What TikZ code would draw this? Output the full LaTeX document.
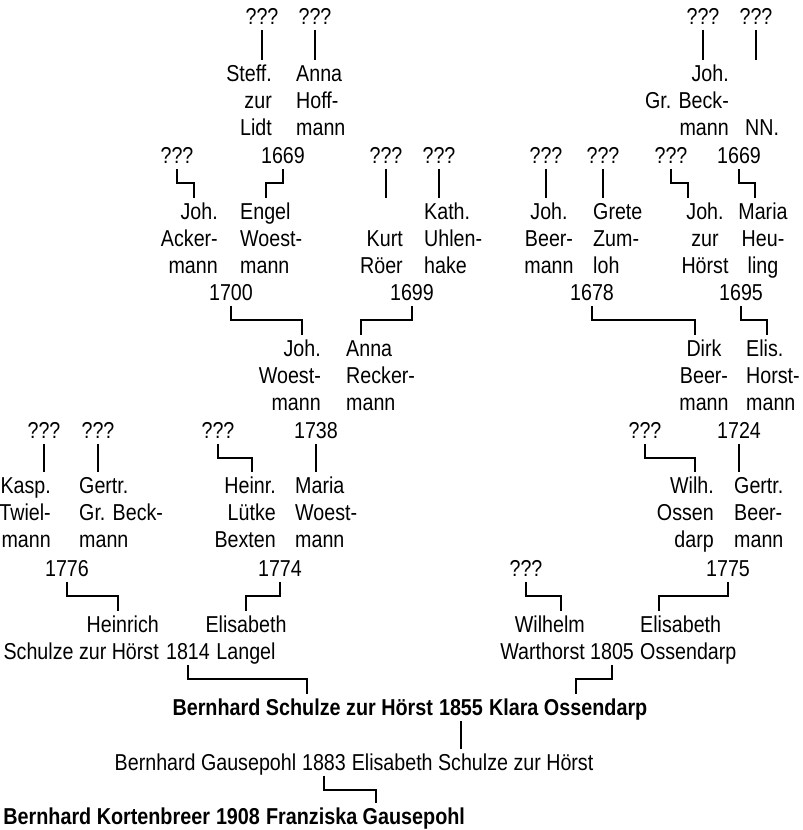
\documentclass[tikz,border=0pt]{standalone}
\usepackage{fontspec}
\setmainfont{Liberation Sans}[UprightFeatures={FakeStretch=0.855},BoldFeatures={FakeStretch=0.86}]
\usetikzlibrary{positioning}
\newcommand\anfont{\fontsize{23}{27}\selectfont}
\tikzset{
    cell/.style={font=\anfont, inner xsep=0pt, inner ysep=5pt, anchor=north},
    yr/.style={cell, text height=16.5pt, text depth=0pt},
    yrb/.style={yr, font=\anfont\bfseries},
    nmr/.style={cell, align=right, anchor=north east},
    nml/.style={cell, align=left, anchor=north west},
    nmc/.style={cell, align=center},
    link/.style={line width=1.8pt}
}
\begin{document}
\begin{tikzpicture}[x=1pt, y=-1pt]
            \fill[white] (0,0) rectangle (803,830);
            \useasboundingbox (0,0) rectangle (803,830);

            \node[yr] (q1) at (262,3) {???};
            \node[yr] (q2) at (315,3) {???};
            \node[yr] (q9) at (703,3) {???};
            \node[yr] (q10) at (756,3) {???};

            \node[nmr] (steff) at (272,60) {Steff.\\zur\\Lidt};
            \node[nml] (hoff) at (296,60) {Anna\\Hoff-\\mann};
            \node[nmr] (beck) at (729,60) {Joh.\\Gr. Beck-\\mann};
            \node[nml] (nn) at (745,60) {\vphantom{N}\\\vphantom{N}\\NN.};

            \foreach \n\x\t in {q3/177/???, y1669a/283/1669, q4/386/???, q5/439/???,
                                q6/546/???, q7/603/???, q8/671/???, y1669b/739/1669} {
                \node[yr] (\n) at (\x,142) {\t};
            }

            \node[nmr] (acker) at (218,198) {Joh.\\Acker-\\mann};
            \node[nml] (engel) at (240,198) {Engel\\Woest-\\mann};
            \node[nmr] (kurt) at (403,198) {\vphantom{K}\\Kurt\\Röer};
            \node[nml] (kath) at (424,198) {Kath.\\Uhlen-\\hake};
            \node[nmc] (beer) at (549,198) {Joh.\\Beer-\\mann};
            \node[nml] (grete) at (593,198) {Grete\\Zum-\\loh};
            \node[nmc] (jzh) at (705,198) {Joh.\\zur\\Hörst};
            \node[nmc] (heul) at (763,198) {Maria\\Heu-\\ling};

            \foreach \n\x\t in {y1700/231/1700, y1699/412/1699, y1678/592/1678, y1695/741/1695} {
                \node[yr] (\n) at (\x,279) {\t};
            }

            \node[nmr] (jwoest) at (321,335) {Joh.\\Woest-\\mann};
            \node[nml] (recker) at (346,335) {Anna\\Recker-\\mann};
            \node[nmc] (dirk) at (704,335) {Dirk\\Beer-\\mann};
            \node[nml] (elis) at (746,335) {Elis.\\Horst-\\mann};

            \foreach \n\x\t in {q11/44/???, q12/98/???, q13/218/???, y1738/316/1738,
                                q14/645/???, y1724/739/1724} {
                \node[yr] (\n) at (\x,417) {\t};
            }

            \node[nmr] (kasp) at (51,472) {Kasp.\\Twiel-\\mann};
            \node[nml] (gertr) at (79,472) {Gertr.\\Gr. Beck-\\mann};
            \node[nmr] (heinr) at (276,472) {Heinr.\\Lütke\\Bexten};
            \node[nml] (mwoest) at (295,472) {Maria\\Woest-\\mann};
            \node[nmr] (wilh) at (714,472) {Wilh.\\Ossen\\darp};
            \node[nml] (gbeer) at (734,472) {Gertr.\\Beer-\\mann};

            \foreach \n\x\t in {y1776/67/1776, y1774/280/1774, q15/526/???, y1775/728/1775} {
                \node[yr] (\n) at (\x,555) {\t};
            }

            \node[nmr] (heinrich) at (159,611) {Heinrich\\Schulze zur Hörst};
            \node[yr] (y1814) at (188,638) {1814};
            \node[nmc] (langel) at (246,611) {Elisabeth\\Langel};
            \node[nmr] (wilhelm) at (585,611) {Wilhelm\\Warthorst};
            \node[yr] (y1805) at (612,638) {1805};
            \node[nml] (ossen) at (640,611) {Elisabeth\\Ossendarp};

            \node[yrb] (y1855) at (461,694) {1855};
            \node[yrb, base left=5.6pt of y1855] (bsh) {Bernhard Schulze zur Hörst};
            \node[yrb, base right=5.6pt of y1855] (klara) {Klara Ossendarp};

            \node[yr] (y1883) at (324,749) {1883};
            \node[yr, base left=5.5pt of y1883] (gaus) {Bernhard Gausepohl};
            \node[yr, base right=5.5pt of y1883] (elisz) {Elisabeth Schulze zur Hörst};

            \node[yrb] (y1908) at (238,803) {1908};
            \node[yrb, base left=5.6pt of y1908] (kort) {Bernhard Kortenbreer};
            \node[yrb, base right=5.6pt of y1908] (franz) {Franziska Gausepohl};

            \foreach \p/\c/\lx in {q1/steff/262, q2/hoff/315, q9/beck/703, q10/nn/756,
                                   q3/acker/194, y1669a/engel/266, q4/kurt/386, q5/kath/439,
                                   q6/beer/546, q7/grete/603, q8/jzh/688, y1669b/heul/755,
                                   y1700/jwoest/302, y1699/recker/361, y1678/dirk/695, y1695/elis/767,
                                   q11/kasp/44, q12/gertr/98, q13/heinr/252, y1738/mwoest/316,
                                   q14/wilh/695, y1724/gbeer/739,
                                   y1776/heinrich/118, y1774/langel/246, q15/wilhelm/561, y1775/ossen/659,
                                   y1814/bsh/307, y1805/klara/576, y1855/elisz/461, y1883/franz/376} {
                \draw[link] (\p.south) -- ++(0,14) -| (\lx,0 |- \c.north);
            }
\end{tikzpicture}
\end{document}
